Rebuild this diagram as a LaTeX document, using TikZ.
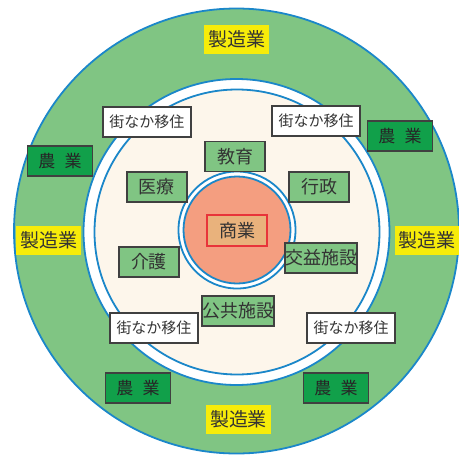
\documentclass[tikz,border=0pt]{standalone}
\usepackage{fontspec}
\setmainfont{Noto Sans CJK JP}
\definecolor{ringgreen}{HTML}{80C583}
\definecolor{ringblue}{HTML}{1B87C9}
\definecolor{cream}{HTML}{FDF6EB}
\definecolor{salmon}{HTML}{F49E80}
\definecolor{farmgreen}{HTML}{11A04A}
\definecolor{mfgyellow}{HTML}{F7EC0A}
\definecolor{shopfill}{HTML}{E9B27C}
\definecolor{shopred}{HTML}{E8343A}
\begin{document}
\begin{tikzpicture}[x=1pt,y=-1pt,
	tag/.style={draw=black!75,line width=1.1pt,minimum height=30pt,inner sep=0pt,
		text=black!80,font=\fontsize{18}{18}\selectfont},
	facility/.style={tag,fill=ringgreen},
	farm/.style={tag,fill=farmgreen,minimum width=65pt,text=black!85,font=\fontsize{17}{17}\selectfont},
	move/.style={tag,fill=white,minimum width=88pt,font=\fontsize{15}{15}\selectfont},
	mfg/.style={fill=mfgyellow,minimum width=65pt,minimum height=29pt,inner sep=0pt,
		text=black!80,font=\fontsize{19}{19}\selectfont},
	ring/.style={draw=ringblue,line width=1.8pt}]
			\useasboundingbox (0,0) rectangle (459,456);
			% rings
			\filldraw[ring,fill=ringgreen] (236.5,231) circle(222.5);
			\filldraw[ring,fill=white] (236.5,232) circle(153);
			\filldraw[ring,fill=cream] (237,232) circle(142.5);
			\filldraw[ring,fill=white] (237,230) circle(58.5);
			\filldraw[ring,fill=salmon] (237,230) circle(53.5);
			% centre
			\node[tag,draw=shopred,fill=shopfill,minimum width=60pt,minimum height=31pt] (shop) at (237,230.5) {商業};
			% facilities
			\node[facility,minimum width=60pt] (edu) at (235,156.5) {教育};
			\node[facility,minimum width=60pt] (med) at (157,187) {医療};
			\node[facility,minimum width=60pt] (gov) at (319,187) {行政};
			\node[facility,minimum width=60pt] (care) at (149,262) {介護};
			\node[facility,minimum width=72pt] (benefit) at (321,258) {交益施設};
			\node[facility,minimum width=72pt] (public) at (238,311) {公共施設};
			% moving in
			\node[move] (move1) at (147,122) {街なか移住};
			\node[move] (move2) at (316,121) {街なか移住};
			\node[move] (move3) at (154,328) {街なか移住};
			\node[move] (move4) at (351,328) {街なか移住};
			% farming
			\node[farm] (farm1) at (60,161) {農\hspace{.55em}業};
			\node[farm] (farm2) at (400,136) {農\hspace{.55em}業};
			\node[farm] (farm3) at (138,388) {農\hspace{.55em}業};
			\node[farm] (farm4) at (336,388) {農\hspace{.55em}業};
			% manufacturing
			\node[mfg] (mfg1) at (236.5,39.5) {製造業};
			\node[mfg] (mfg2) at (48.5,240) {製造業};
			\node[mfg] (mfg3) at (427,240.5) {製造業};
			\node[mfg] (mfg4) at (238.5,419.5) {製造業};
		\end{tikzpicture}
\end{document}
